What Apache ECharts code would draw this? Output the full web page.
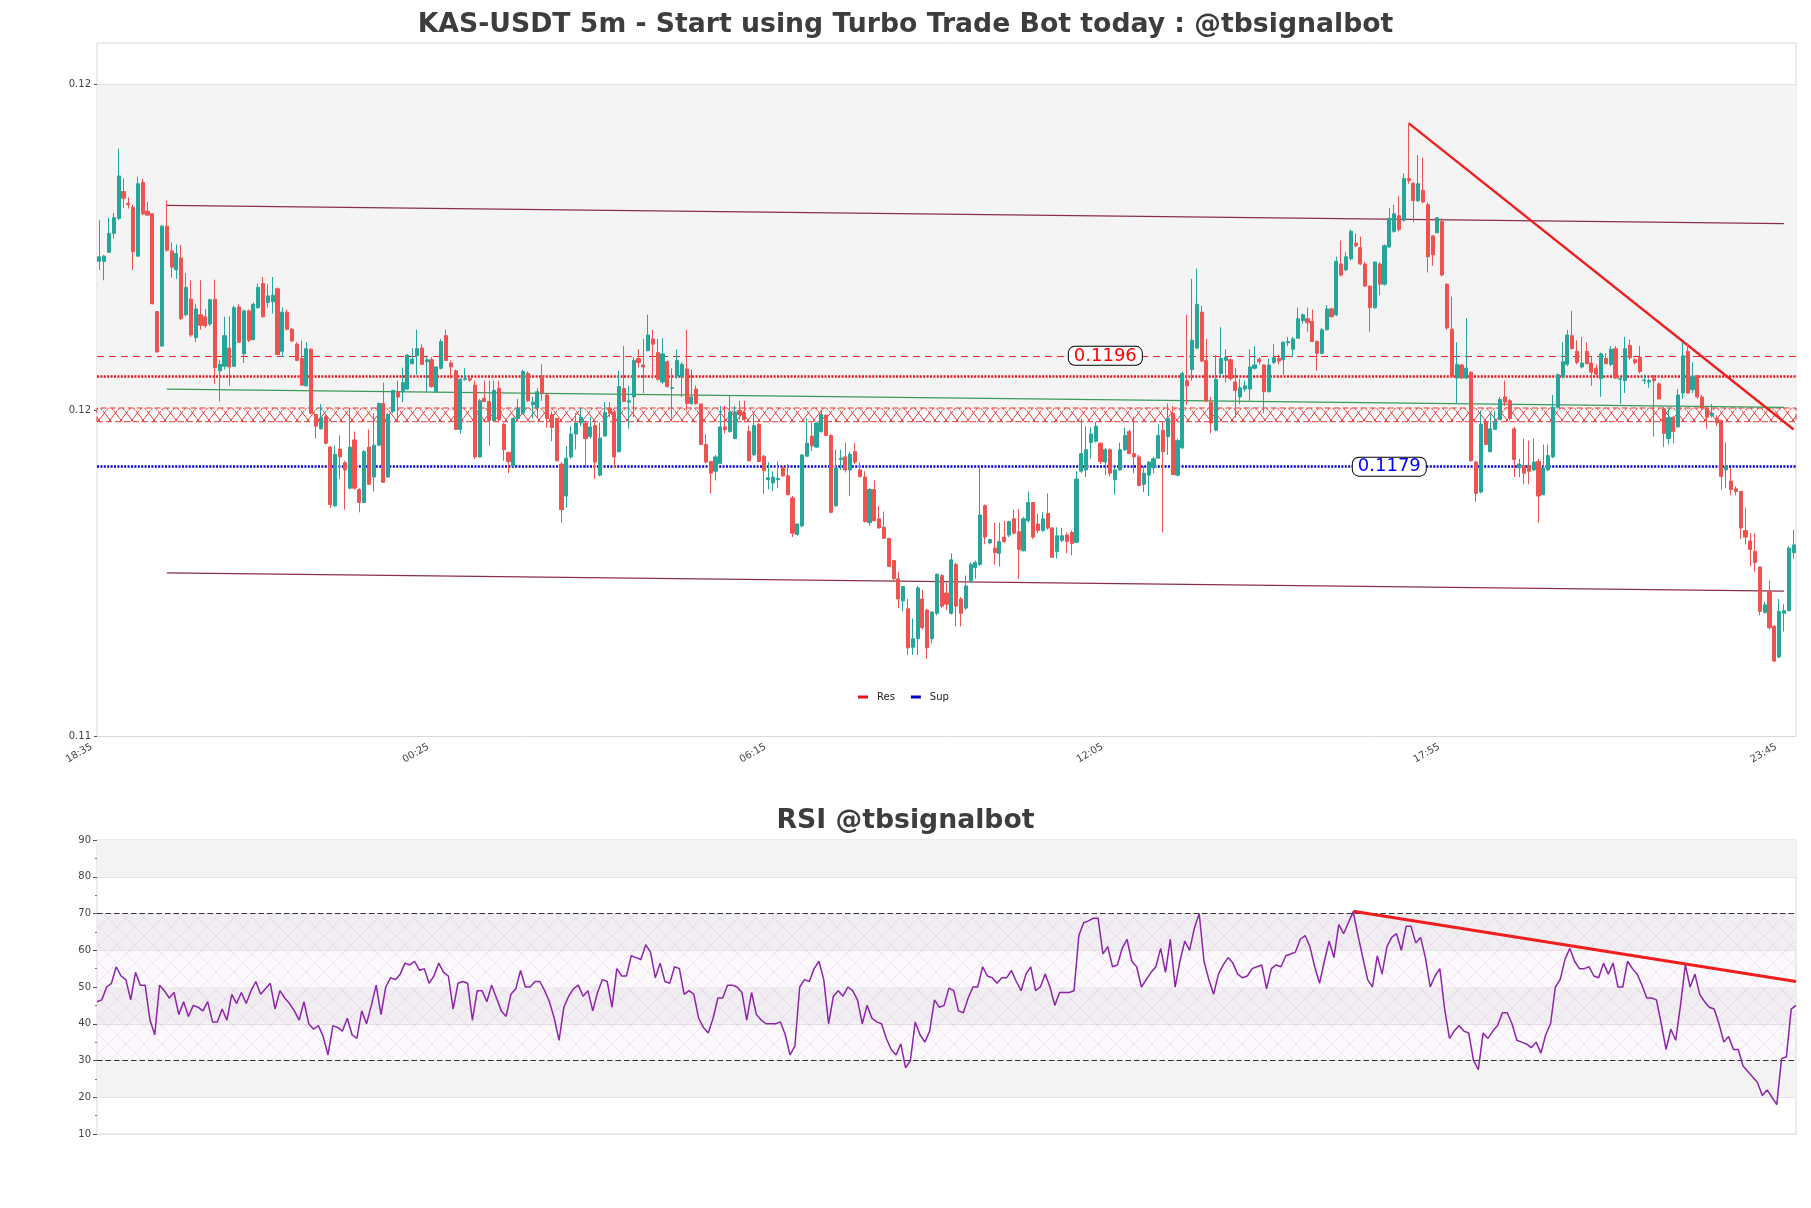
<!DOCTYPE html>
<html><head><meta charset="utf-8">
<script src="https://cdn.jsdelivr.net/npm/echarts@6/dist/echarts.min.js"></script>
<style>html,body{margin:0;padding:0;background:#fff}#main{width:1811px;height:1208px}</style>
</head><body><div id="main"></div>
<script>
// ---------- DATA ----------
const startTime = '18:35';
const stepMinutes = 5;
const open = [
0.12105,0.12105,0.12119,0.12148,0.12171,0.12212,0.12194,0.12188,0.12113,0.12226,
0.12182,0.12178,0.12028,0.11975,0.12159,0.12121,0.12092,0.12110,0.12023,0.12047,
0.11988,0.12023,0.12020,0.12009,0.12047,0.11937,0.11944,0.11972,0.11944,0.12035,
0.11963,0.12029,0.11985,0.12034,0.12071,0.12042,0.12043,0.12063,0.11967,0.12027,
0.12001,0.11978,0.11956,0.11914,0.11970,0.11870,0.11848,0.11867,0.11820,0.11730,
0.11817,0.11796,0.11757,0.11831,0.11755,0.11735,0.11820,0.11774,0.11823,0.11887,
0.11774,0.11875,0.11905,0.11905,0.11909,0.11948,0.11960,0.11972,0.11951,0.11954,
0.11905,0.11941,0.11991,0.11949,0.11937,0.11847,0.11924,0.11925,0.11915,0.11805,
0.11895,0.11890,0.11861,0.11910,0.11855,0.11812,0.11791,0.11864,0.11872,0.11933,
0.11885,0.11880,0.11928,0.11900,0.11870,0.11864,0.11794,0.11745,0.11805,0.11840,
0.11857,0.11857,0.11836,0.11853,0.11777,0.11837,0.11880,0.11874,0.11813,0.11910,
0.11889,0.11897,0.11956,0.11946,0.11968,0.11986,0.11965,0.11920,0.11951,0.11910,
0.11929,0.11928,0.11940,0.11887,0.11909,0.11886,0.11824,0.11798,0.11783,0.11795,
0.11851,0.11844,0.11833,0.11876,0.11873,0.11844,0.11808,0.11855,0.11806,0.11770,
0.11765,0.11770,0.11789,0.11776,0.11742,0.11686,0.11699,0.11806,0.11837,0.11820,
0.11844,0.11869,0.11838,0.11730,0.11801,0.11805,0.11785,0.11813,0.11785,0.11774,
0.11704,0.11755,0.11710,0.11697,0.11680,0.11646,0.11618,0.11584,0.11572,0.11513,
0.11526,0.11587,0.11570,0.11526,0.11565,0.11623,0.11596,0.11565,0.11640,0.11587,
0.11573,0.11615,0.11635,0.11640,0.11730,0.11673,0.11665,0.11657,0.11682,0.11685,
0.11710,0.11690,0.11661,0.11707,0.11735,0.11702,0.11692,0.11718,0.11696,0.11660,
0.11677,0.11685,0.11689,0.11674,0.11783,0.11785,0.11827,0.11829,0.11826,0.11797,
0.11816,0.11770,0.11785,0.11816,0.11844,0.11810,0.11805,0.11763,0.11777,0.11788,
0.11803,0.11846,0.11836,0.11872,0.11777,0.11819,0.11922,0.11939,0.11972,0.12027,
0.11953,0.11889,0.11846,0.11933,0.11953,0.11954,0.11920,0.11897,0.11909,0.11909,
0.11941,0.11955,0.11946,0.11905,0.11950,0.11956,0.11954,0.11980,0.11970,0.11987,
0.12014,0.12017,0.12013,0.11982,0.11964,0.12000,0.12032,0.12023,0.12101,0.12092,
0.12109,0.12133,0.12126,0.12101,0.12067,0.12034,0.12101,0.12070,0.12127,0.12151,
0.12175,0.12168,0.12232,0.12225,0.12198,0.12214,0.12192,0.12144,0.12149,0.12166,
0.12070,0.12001,0.11926,0.11946,0.11926,0.11935,0.11797,0.11751,0.11859,0.11813,
0.11847,0.11862,0.11897,0.11891,0.11848,0.11788,0.11791,0.11792,0.11785,0.11798,
0.11747,0.11785,0.11805,0.11881,0.11928,0.11947,0.11991,0.11967,0.11943,0.11967,
0.11949,0.11941,0.11925,0.11956,0.11947,0.11971,0.11924,0.11922,0.11976,0.11954,
0.11958,0.11922,0.11920,0.11925,0.11917,0.11879,0.11833,0.11866,0.11851,0.11903,
0.11967,0.11908,0.11929,0.11897,0.11879,0.11868,0.11864,0.11861,0.11785,0.11768,
0.11756,0.11752,0.11692,0.11676,0.11660,0.11636,0.11566,0.11598,0.11545,0.11498,
0.11565,0.11569,0.11658];
const close = [
0.12112,0.12113,0.12148,0.12172,0.12236,0.12202,0.12192,0.12120,0.12224,0.12178,
0.12176,0.12040,0.11966,0.12159,0.12122,0.12096,0.12117,0.12017,0.12065,0.11992,
0.12032,0.12007,0.12006,0.12046,0.11942,0.11947,0.11991,0.11943,0.12034,0.11981,
0.12029,0.11984,0.12039,0.12065,0.12020,0.12052,0.12053,0.11962,0.12027,0.12001,
0.11983,0.11953,0.11915,0.11971,0.11872,0.11852,0.11865,0.11826,0.11732,0.11809,
0.11805,0.11785,0.11820,0.11757,0.11735,0.11813,0.11763,0.11823,0.11887,0.11766,
0.11870,0.11907,0.11897,0.11919,0.11961,0.11955,0.11971,0.11947,0.11954,0.11913,
0.11943,0.11982,0.11953,0.11943,0.11847,0.11924,0.11925,0.11923,0.11805,0.11891,
0.11890,0.11861,0.11907,0.11862,0.11816,0.11798,0.11864,0.11880,0.11936,0.11891,
0.11889,0.11905,0.11903,0.11864,0.11850,0.11799,0.11724,0.11803,0.11840,0.11857,
0.11866,0.11833,0.11851,0.11797,0.11834,0.11873,0.11872,0.11805,0.11913,0.11890,
0.11891,0.11953,0.11950,0.11943,0.11992,0.11978,0.11924,0.11963,0.11913,0.11911,
0.11953,0.11947,0.11887,0.11897,0.11887,0.11824,0.11797,0.11780,0.11805,0.11851,
0.11847,0.11874,0.11874,0.11870,0.11862,0.11799,0.11853,0.11798,0.11784,0.11773,
0.11774,0.11772,0.11776,0.11747,0.11688,0.11702,0.11808,0.11826,0.11822,0.11857,
0.11870,0.11838,0.11720,0.11788,0.11803,0.11785,0.11809,0.11797,0.11775,0.11706,
0.11755,0.11707,0.11696,0.11680,0.11637,0.11618,0.11587,0.11606,0.11512,0.11526,
0.11604,0.11543,0.11512,0.11567,0.11625,0.11576,0.11579,0.11647,0.11576,0.11565,
0.11607,0.11640,0.11643,0.11716,0.11682,0.11678,0.11658,0.11675,0.11675,0.11706,
0.11688,0.11663,0.11710,0.11735,0.11682,0.11692,0.11710,0.11696,0.11651,0.11684,
0.11684,0.11675,0.11672,0.11771,0.11810,0.11816,0.11840,0.11852,0.11798,0.11816,
0.11780,0.11785,0.11816,0.11838,0.11810,0.11805,0.11761,0.11780,0.11797,0.11802,
0.11838,0.11813,0.11864,0.11778,0.11830,0.11933,0.11914,0.11984,0.12039,0.11952,
0.11891,0.11857,0.11924,0.11956,0.11958,0.11925,0.11907,0.11911,0.11914,0.11943,
0.11946,0.11951,0.11905,0.11946,0.11957,0.11952,0.11981,0.11982,0.11986,0.12017,
0.12023,0.12011,0.11982,0.11964,0.12000,0.12032,0.12020,0.12105,0.12084,0.12112,
0.12151,0.12129,0.12101,0.12067,0.12034,0.12104,0.12070,0.12129,0.12171,0.12178,
0.12154,0.12232,0.12229,0.12198,0.12224,0.12196,0.12112,0.12115,0.12172,0.12084,
0.12003,0.11928,0.11947,0.11926,0.11941,0.11799,0.11749,0.11855,0.11824,0.11848,
0.11859,0.11893,0.11889,0.11864,0.11801,0.11794,0.11780,0.11783,0.11797,0.11745,
0.11788,0.11807,0.11881,0.11931,0.11951,0.11992,0.11971,0.11950,0.11949,0.11948,
0.11935,0.11932,0.11963,0.11948,0.11970,0.11926,0.11925,0.11971,0.11957,0.11950,
0.11936,0.11923,0.11922,0.11922,0.11894,0.11841,0.11865,0.11844,0.11900,0.11960,
0.11903,0.11928,0.11897,0.11880,0.11866,0.11872,0.11857,0.11775,0.11790,0.11755,
0.11752,0.11696,0.11682,0.11663,0.11643,0.11568,0.11578,0.11543,0.11492,0.11568,
0.11569,0.11665,0.11670];
const low = [
0.12092,0.12076,0.12118,0.12140,0.12168,0.12187,0.12186,0.12092,0.12112,0.12176,
0.12175,0.12039,0.11965,0.11974,0.12120,0.12080,0.12078,0.12015,0.12021,0.11989,
0.11981,0.12000,0.12003,0.12006,0.11917,0.11890,0.11939,0.11914,0.11943,0.11980,
0.11949,0.11981,0.11984,0.12032,0.12019,0.12034,0.12025,0.11961,0.11958,0.11999,
0.11981,0.11952,0.11914,0.11913,0.11870,0.11833,0.11847,0.11824,0.11727,0.11728,
0.11771,0.11724,0.11755,0.11755,0.11720,0.11734,0.11762,0.11752,0.11822,0.11765,
0.11773,0.11872,0.11859,0.11889,0.11908,0.11947,0.11931,0.11946,0.11905,0.11911,
0.11904,0.11939,0.11952,0.11925,0.11846,0.11841,0.11922,0.11920,0.11802,0.11804,
0.11889,0.11822,0.11859,0.11858,0.11799,0.11780,0.11790,0.11862,0.11870,0.11889,
0.11864,0.11864,0.11891,0.11850,0.11829,0.11798,0.11704,0.11727,0.11802,0.11816,
0.11852,0.11788,0.11833,0.11771,0.11775,0.11836,0.11866,0.11788,0.11812,0.11889,
0.11848,0.11866,0.11942,0.11903,0.11967,0.11925,0.11922,0.11917,0.11911,0.11864,
0.11925,0.11897,0.11877,0.11885,0.11885,0.11823,0.11795,0.11749,0.11769,0.11794,
0.11841,0.11842,0.11832,0.11862,0.11858,0.11798,0.11807,0.11797,0.11748,0.11755,
0.11752,0.11757,0.11774,0.11746,0.11682,0.11684,0.11697,0.11805,0.11814,0.11819,
0.11842,0.11837,0.11718,0.11728,0.11785,0.11781,0.11745,0.11794,0.11773,0.11704,
0.11699,0.11706,0.11695,0.11679,0.11636,0.11613,0.11573,0.11568,0.11501,0.11501,
0.11501,0.11540,0.11495,0.11519,0.11562,0.11573,0.11570,0.11563,0.11545,0.11545,
0.11570,0.11612,0.11618,0.11637,0.11671,0.11671,0.11640,0.11637,0.11673,0.11682,
0.11686,0.11618,0.11660,0.11704,0.11679,0.11688,0.11690,0.11693,0.11650,0.11649,
0.11674,0.11657,0.11654,0.11673,0.11780,0.11774,0.11802,0.11827,0.11794,0.11777,
0.11775,0.11747,0.11784,0.11814,0.11809,0.11780,0.11760,0.11751,0.11745,0.11780,
0.11802,0.11689,0.11808,0.11777,0.11775,0.11817,0.11885,0.11922,0.11970,0.11950,
0.11889,0.11841,0.11844,0.11928,0.11919,0.11922,0.11865,0.11886,0.11905,0.11891,
0.11939,0.11947,0.11872,0.11904,0.11947,0.11947,0.11931,0.11975,0.11958,0.11986,
0.12009,0.11997,0.11981,0.11937,0.11963,0.11999,0.12019,0.12021,0.12082,0.12090,
0.12106,0.12127,0.12099,0.12066,0.11997,0.12032,0.12053,0.12068,0.12126,0.12149,
0.12151,0.12166,0.12224,0.12165,0.12196,0.12194,0.12088,0.12098,0.12148,0.12082,
0.12000,0.11926,0.11886,0.11925,0.11924,0.11798,0.11736,0.11749,0.11823,0.11812,
0.11846,0.11861,0.11883,0.11861,0.11774,0.11774,0.11763,0.11763,0.11783,0.11704,
0.11746,0.11783,0.11803,0.11879,0.11925,0.11944,0.11970,0.11947,0.11941,0.11947,
0.11914,0.11928,0.11897,0.11947,0.11944,0.11925,0.11886,0.11903,0.11954,0.11947,
0.11933,0.11917,0.11911,0.11836,0.11893,0.11820,0.11824,0.11826,0.11850,0.11894,
0.11902,0.11903,0.11894,0.11876,0.11848,0.11865,0.11852,0.11755,0.11757,0.11746,
0.11746,0.11679,0.11671,0.11637,0.11629,0.11562,0.11565,0.11540,0.11490,0.11496,
0.11537,0.11568,0.11649];
const high = [
0.12168,0.12115,0.12172,0.12179,0.12278,0.12232,0.12203,0.12192,0.12235,0.12232,
0.12196,0.12179,0.12028,0.12161,0.12198,0.12134,0.12131,0.12130,0.12087,0.12076,
0.12039,0.12076,0.12032,0.12048,0.12077,0.11953,0.12020,0.12021,0.12037,0.12039,
0.12031,0.12031,0.12042,0.12071,0.12081,0.12070,0.12081,0.12065,0.12034,0.12031,
0.12003,0.11981,0.11984,0.11981,0.11972,0.11871,0.11886,0.11869,0.11822,0.11822,
0.11838,0.11799,0.11880,0.11844,0.11757,0.11816,0.11847,0.11872,0.11888,0.11919,
0.11872,0.11908,0.11922,0.11942,0.11963,0.11972,0.12000,0.11978,0.11958,0.11958,
0.11944,0.11986,0.12000,0.11953,0.11939,0.11926,0.11941,0.11928,0.11922,0.11894,
0.11922,0.11922,0.11922,0.11922,0.11857,0.11813,0.11866,0.11894,0.11939,0.11936,
0.11897,0.11911,0.11947,0.11903,0.11875,0.11865,0.11797,0.11822,0.11852,0.11872,
0.11880,0.11861,0.11866,0.11858,0.11858,0.11889,0.11889,0.11877,0.11937,0.11975,
0.11914,0.11958,0.11970,0.11986,0.12023,0.12000,0.11986,0.11987,0.11953,0.11941,
0.11970,0.11950,0.12000,0.11939,0.11914,0.11887,0.11840,0.11799,0.11808,0.11883,
0.11883,0.11899,0.11883,0.11891,0.11891,0.11853,0.11870,0.11857,0.11808,0.11797,
0.11783,0.11798,0.11791,0.11794,0.11745,0.11703,0.11809,0.11864,0.11858,0.11858,
0.11877,0.11870,0.11840,0.11816,0.11816,0.11827,0.11813,0.11826,0.11797,0.11783,
0.11757,0.11769,0.11730,0.11721,0.11680,0.11647,0.11629,0.11607,0.11587,0.11557,
0.11607,0.11601,0.11572,0.11568,0.11626,0.11625,0.11612,0.11657,0.11643,0.11590,
0.11623,0.11643,0.11646,0.11791,0.11732,0.11679,0.11704,0.11704,0.11707,0.11707,
0.11724,0.11725,0.11713,0.11752,0.11736,0.11718,0.11720,0.11749,0.11697,0.11697,
0.11696,0.11689,0.11692,0.11783,0.11864,0.11852,0.11850,0.11859,0.11827,0.11819,
0.11818,0.11788,0.11827,0.11850,0.11847,0.11867,0.11808,0.11791,0.11799,0.11805,
0.11855,0.11858,0.11887,0.11883,0.11833,0.11936,0.12023,0.12078,0.12094,0.12037,
0.11986,0.11897,0.11961,0.12004,0.11970,0.11956,0.11941,0.11925,0.11922,0.11970,
0.11975,0.11958,0.11947,0.11956,0.11978,0.11962,0.11982,0.11989,0.11989,0.12034,
0.12025,0.12034,0.12031,0.11984,0.12003,0.12038,0.12034,0.12112,0.12137,0.12119,
0.12154,0.12148,0.12143,0.12104,0.12068,0.12105,0.12104,0.12131,0.12187,0.12192,
0.12205,0.12240,0.12317,0.12226,0.12268,0.12264,0.12196,0.12145,0.12173,0.12171,
0.12071,0.12051,0.11981,0.11947,0.12018,0.11936,0.11799,0.11876,0.11861,0.11872,
0.11875,0.11897,0.11922,0.11894,0.11851,0.11802,0.11833,0.11830,0.11833,0.11802,
0.11824,0.11824,0.11900,0.11933,0.11981,0.12000,0.12029,0.11984,0.11989,0.11981,
0.11958,0.11947,0.11965,0.11964,0.11975,0.11975,0.11928,0.11989,0.11985,0.11957,
0.11975,0.11931,0.11925,0.11931,0.11919,0.11882,0.11879,0.11867,0.11909,0.11981,
0.11979,0.11950,0.11931,0.11900,0.11882,0.11886,0.11869,0.11862,0.11827,0.11788,
0.11760,0.11753,0.11727,0.11688,0.11688,0.11637,0.11582,0.11615,0.11547,0.11587,
0.11579,0.11668,0.11693];
const rsi = [
46,46.5,50,51,55.5,53,52,46.5,54,50.5,
50.5,41,37,50.5,49,47,48.5,42.5,46,42,
45,44.5,43.5,46,40.5,40.5,44,41,48,45.5,
48.5,45.5,49,51.5,48,49.5,51,44,49,47,
45.5,43.5,41,46,40,38.5,39.5,36.5,31.5,39.5,
39,38,41.5,37,36,43.5,40,45,50.5,42.5,
50,52.5,52,53.5,56.5,56,57,54.5,55,51,
53,56.5,54,53,44,51,51.5,51,41,49,
49,46,50.5,47,43.5,42,48,49.5,54.5,50,
50,51.5,51.5,49,46,41.5,35.5,44.5,47.5,49.5,
50.5,47.5,49,43.5,48.5,52,51.5,44.5,55,53,
53,58.5,58,57.5,61.5,59.5,52.5,56.5,51.5,51,
55.5,55,48,49,48,41.5,39,37.5,41.5,47,
47,50.5,50.5,50,48.5,41,48.5,42.5,41,40,
40,40,40.5,37,31.5,34,50,52,51.5,55,
57,52,40,47.5,49,47.5,50,49,46.5,40,
45,41.5,40.5,40,36,33,31.5,34.5,28,30,
40.5,37,35,38,46.5,44.5,45,49.7,49,43.5,
43,47,50,50,55.5,53,52.5,51,52.5,52.5,
54.5,51.5,49,53.5,55.5,49,50,53.5,50,45,
48.5,48.5,48.5,49,64,67.5,68,68.7,68.7,59,
61,55.5,56,60.5,63,57,55.5,50,52,54,
55.5,60.5,54,63,50,57,62.5,60,66,70,
57,52,48,53.5,56,58,56.5,53.5,52.5,53,
55,55.5,56,49.5,55,56,55.5,58.5,59,59.5,
63,64,61,55.5,51,57,62.5,58,67,64.5,
67.5,70.5,64,58,52,50,58.5,53.5,61,63.5,
64.5,60,66.5,66.5,62,63.5,58,50,53,55,
44,36,38,39.5,38,37.5,30,27.5,37.5,36,
38,39.5,43,43,40,35.5,35,34.5,33.5,35,
32,37,40,50,52,57.5,60.5,57,55,55,
55.5,53,52.5,56.5,53.5,56.5,50,50,57,55,
53.5,50.5,47,47,46.5,40,33,38.5,35.5,45,
56,50,53.5,48,46,44.5,44,40,35,36.5,
33,33,28.5,27,25.5,24,20.5,22,20,18,
30.5,31,44,45];
// price axis tick values (labels shown rounded to 2 decimals)
const priceTicks = [0.11376, 0.11876, 0.12376];
const priceRange = [0.11376, 0.12440];
// support / resistance levels
const resLevels = [0.1196, 0.11929];
const supLevels = [0.1179];
const resZone = [0.11859, 0.11880];
const levelLabelIdx = [209, 268];
// trendlines: [index, value] pairs
const channelUpper = [[14, 0.12191], [350, 0.12163]];
const channelLower = [[14, 0.11627], [350, 0.11599]];
const midLine = [[14, 0.11909], [350, 0.11881]];
const priceTrend = [[272, 0.12317], [352, 0.11847]];
const rsiTrend = [[261, 70.6], [353, 51.5]];
const rsiBandsGrey = [[20, 30], [40, 50], [60, 70], [80, 90]];
const rsiZone = [30, 70];
const rsiGuides = [30, 70];

// ---------- BUILD ----------
function pad(n){return String(n).padStart(2,'0');}
const [sh, sm] = startTime.split(':').map(Number);
const times = open.map((_, i) => { const m = (sh*60 + sm + stepMinutes*i) % 1440; return pad(Math.floor(m/60)) + ':' + pad(m%60); });
const ohlc = open.map((o, i) => [o, close[i], low[i], high[i]]);
const rsiCats = rsi.map((_, i) => String(i));

function makeHatch(w, h, stroke, lw, fill) {
  const c = document.createElement('canvas'); c.width = w; c.height = h;
  const g = c.getContext('2d');
  if (fill) { g.fillStyle = fill; g.fillRect(0, 0, w, h); }
  g.strokeStyle = stroke; g.lineWidth = lw;
  g.beginPath(); g.moveTo(0, 0); g.lineTo(w, h); g.moveTo(w, 0); g.lineTo(0, h); g.stroke();
  return c;
}
const redHatch = makeHatch(11, 14, '#e53935', 1, 'rgba(255,255,255,0.55)');
const rsiHatch = makeHatch(18, 18, 'rgba(170,110,200,0.22)', 0.7, 'rgba(225,195,240,0.10)');

const FONT = 'DejaVu Sans';
const PREC = 6;
const chart = echarts.init(document.getElementById('main'), null, {renderer: 'canvas'});
const segLine = (pts, ls) => [Object.assign({coord: pts[0]}, ls ? {lineStyle: ls} : {}), {coord: pts[1]}];

const option = {
  animation: false,
  backgroundColor: '#ffffff',
  textStyle: {fontFamily: FONT},
  title: [
    {text: 'KAS-USDT 5m - Start using Turbo Trade Bot today : @tbsignalbot', left: 'center', top: 5,
     textStyle: {fontFamily: FONT, fontWeight: 'bold', fontSize: 26.7, lineHeight: 30, color: '#3d3d3d'}},
    {text: 'RSI @tbsignalbot', left: 'center', top: 801,
     textStyle: {fontFamily: FONT, fontWeight: 'bold', fontSize: 26.7, lineHeight: 30, color: '#3d3d3d'}}
  ],
  legend: {
    data: ['Res', 'Sup'], left: 858, top: 692, padding: 0, icon: 'rect',
    itemWidth: 10, itemHeight: 3, itemGap: 16,
    textStyle: {fontFamily: FONT, fontSize: 10, color: '#222', padding: [0, 0, 0, 4]}
  },
  grid: [
    {left: 97, right: 15, top: 43, height: 693.5, show: true, borderColor: '#d9d9d9', borderWidth: 1, backgroundColor: 'transparent'},
    {left: 97, right: 15, top: 840, height: 294, show: true, borderColor: '#d9d9d9', borderWidth: 1, backgroundColor: 'transparent'}
  ],
  xAxis: [
    {type: 'category', gridIndex: 0, data: times, boundaryGap: true,
     axisLine: {show: false}, axisTick: {show: false}, splitLine: {show: false},
     axisLabel: {interval: 69, rotate: 30, fontSize: 10, color: '#444', margin: 5, padding: [0, 9, 0, 0], fontFamily: FONT}},
    {type: 'category', gridIndex: 1, data: rsiCats, boundaryGap: false,
     axisLine: {show: false}, axisTick: {show: false}, axisLabel: {show: false}, splitLine: {show: false}}
  ],
  yAxis: [
    {type: 'value', gridIndex: 0, min: priceRange[0], max: priceRange[1], scale: true,
     splitLine: {show: false}, axisLine: {show: false},
     axisTick: {show: true, length: 3, customValues: priceTicks, lineStyle: {color: '#555'}},
     axisLabel: {customValues: priceTicks, formatter: v => v.toFixed(2), fontSize: 10, color: '#444', margin: 6, fontFamily: FONT}},
    {type: 'value', gridIndex: 1, min: 10, max: 90, interval: 10,
     splitLine: {show: true, lineStyle: {color: '#e2e2e2', width: 1}},
     axisLine: {show: false},
     axisTick: {show: true, length: 4, lineStyle: {color: '#555'}},
     minorTick: {show: true, splitNumber: 2, length: 2, lineStyle: {color: '#777'}},
     axisLabel: {fontSize: 10, color: '#444', margin: 6, fontFamily: FONT}}
  ],
  series: [
    // main panel background band + gridlines
    {type: 'line', name: 'bg', xAxisIndex: 0, yAxisIndex: 0, data: [], silent: true, z: 0,
     markArea: {silent: true, itemStyle: {color: '#f4f4f4'},
       data: [[{yAxis: priceTicks[1]}, {yAxis: priceTicks[2]}]]},
     markLine: {silent: true, precision: PREC, symbol: ['none', 'none'], label: {show: false},
       lineStyle: {color: '#e3e3e3', width: 1, type: 'solid'},
       data: [{yAxis: priceTicks[1]}, {yAxis: priceTicks[2]}]}},
    // hatched resistance zone
    {type: 'line', name: 'zone', xAxisIndex: 0, yAxisIndex: 0, data: [], silent: true, z: 1,
     markArea: {silent: true,
       itemStyle: {color: {image: redHatch, repeat: 'repeat'}, borderColor: '#e53935', borderWidth: 1, borderType: [6, 3]},
       data: [[{yAxis: resZone[0]}, {yAxis: resZone[1]}]]}},
    // channel & mid lines
    {type: 'line', name: 'trend', xAxisIndex: 0, yAxisIndex: 0, data: [], silent: true, z: 2,
     markLine: {silent: true, precision: PREC, symbol: ['none', 'none'], label: {show: false},
       data: [
         segLine(channelUpper, {color: '#8b2f45', width: 1.3, type: 'solid'}),
         segLine(channelLower, {color: '#8b2f45', width: 1.3, type: 'solid'}),
         segLine(midLine, {color: '#3a9a58', width: 1.2, type: 'solid'})
       ]}},
    // Res levels
    {type: 'line', name: 'Res', xAxisIndex: 0, yAxisIndex: 0, data: [], z: 3,
     itemStyle: {color: '#e8141a'}, lineStyle: {color: '#e8141a'},
     markLine: {silent: true, precision: PREC, symbol: ['none', 'none'], label: {show: false},
       data: [
         {yAxis: resLevels[0], lineStyle: {color: '#ff1a1a', width: 1.2, type: [7, 5]}},
         {yAxis: resLevels[1], lineStyle: {color: '#e8141a', width: 2.6, type: [2, 1.4]}}
       ]},
     markPoint: {silent: true, symbol: 'circle', symbolSize: 1, itemStyle: {color: 'rgba(0,0,0,0)'},
       label: {show: true, position: 'inside', formatter: () => resLevels[0].toFixed(4), color: '#ff0000',
         fontSize: 18, fontFamily: FONT, backgroundColor: '#ffffff', borderColor: '#000', borderWidth: 1,
         borderRadius: 6, padding: [0, 5, 0, 5], lineHeight: 18},
       data: [{coord: [levelLabelIdx[0], resLevels[0]]}]}},
    // Sup level
    {type: 'line', name: 'Sup', xAxisIndex: 0, yAxisIndex: 0, data: [], z: 3,
     itemStyle: {color: '#0000c8'}, lineStyle: {color: '#0000c8'},
     markLine: {silent: true, precision: PREC, symbol: ['none', 'none'], label: {show: false},
       data: [{yAxis: supLevels[0], lineStyle: {color: '#0000d0', width: 2.6, type: [2, 1.4]}}]},
     markPoint: {silent: true, symbol: 'circle', symbolSize: 1, itemStyle: {color: 'rgba(0,0,0,0)'},
       label: {show: true, position: 'inside', formatter: () => supLevels[0].toFixed(4), color: '#0000ff',
         fontSize: 18, fontFamily: FONT, backgroundColor: '#ffffff', borderColor: '#000', borderWidth: 1,
         borderRadius: 6, padding: [0, 5, 0, 5], lineHeight: 18},
       data: [{coord: [levelLabelIdx[1], supLevels[0]]}]}},
    // candles
    {type: 'candlestick', name: 'KAS-USDT', xAxisIndex: 0, yAxisIndex: 0, data: ohlc, z: 5, barWidth: 3.6,
     itemStyle: {color: '#26a69a', color0: '#ef5350', borderColor: '#26a69a', borderColor0: '#ef5350', borderWidth: 1}},
    // price downtrend
    {type: 'line', name: 'ptrend', xAxisIndex: 0, yAxisIndex: 0, data: [], silent: true, z: 6,
     markLine: {silent: true, precision: PREC, symbol: ['none', 'none'], label: {show: false},
       lineStyle: {color: '#f01e1e', width: 2.4, type: 'solid'},
       data: [segLine(priceTrend)]}},
    // RSI bands
    {type: 'line', name: 'rsibg', xAxisIndex: 1, yAxisIndex: 1, data: [], silent: true, z: 0,
     markArea: {silent: true, itemStyle: {color: '#f3f3f3'},
       data: rsiBandsGrey.map(b => [{yAxis: b[0]}, {yAxis: b[1]}])}},
    {type: 'line', name: 'rsizone', xAxisIndex: 1, yAxisIndex: 1, data: [], silent: true, z: 1,
     markArea: {silent: true, itemStyle: {color: {image: rsiHatch, repeat: 'repeat'}},
       data: [[{yAxis: rsiZone[0]}, {yAxis: rsiZone[1]}]]},
     markLine: {silent: true, precision: PREC, symbol: ['none', 'none'], label: {show: false},
       lineStyle: {color: '#333', width: 1.2, type: [5.5, 3]},
       data: rsiGuides.map(v => ({yAxis: v}))}},
    {type: 'line', name: 'RSI', xAxisIndex: 1, yAxisIndex: 1, data: rsi, symbol: 'none', z: 5,
     lineStyle: {color: '#8e24aa', width: 1.5}, itemStyle: {color: '#8e24aa'}},
    {type: 'line', name: 'rtrend', xAxisIndex: 1, yAxisIndex: 1, data: [], silent: true, z: 6,
     markLine: {silent: true, precision: PREC, symbol: ['none', 'none'], label: {show: false},
       lineStyle: {color: '#f01e1e', width: 3, type: 'solid'},
       data: [segLine(rsiTrend)]}}
  ]
};
chart.setOption(option);
</script>
</body></html>
